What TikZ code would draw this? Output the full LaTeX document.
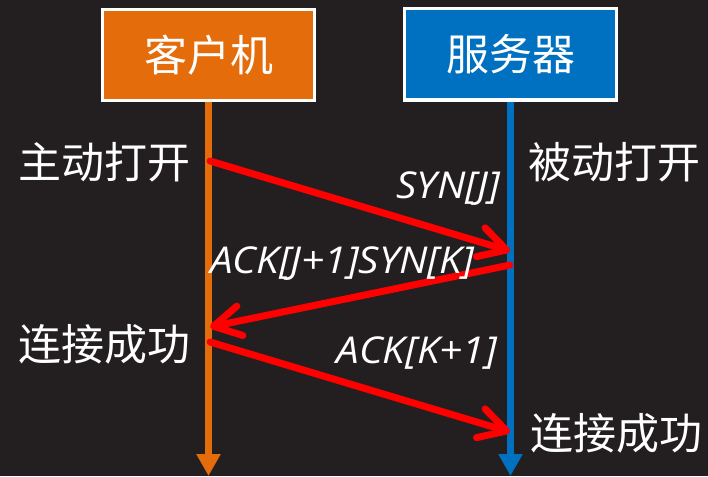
\documentclass[tikz,border=0pt]{standalone}
\usepackage{fontspec}
\setmainfont{Noto Sans CJK SC}
\newfontfamily\latfont{Open Sans}
\usetikzlibrary{arrows.meta}
\definecolor{bgc}{HTML}{231F20}
\definecolor{orgc}{HTML}{E46C0A}
\definecolor{bluc}{HTML}{0070C0}
\definecolor{redc}{HTML}{FF0000}
\newcommand{\msgtext}[1]{\scalebox{1.09}[1]{#1}}
\tikzset{
  hostbox/.style={draw=white, line width=3pt, minimum width=212pt, minimum height=91pt, inner sep=0pt, text=white, font=\fontsize{43}{43}\selectfont},
  cjklabel/.style={text=white, inner sep=0pt, font=\fontsize{43}{43}\selectfont},
  msglabel/.style={text=white, inner sep=0pt, font=\latfont\itshape\fontsize{37}{37}\selectfont},
  lifeline/.style={line width=7pt, -{Triangle[length=22pt,width=23pt]}},
  msgarrow/.style={draw=redc, line width=7pt, line cap=round, -{Straight Barb[length=27pt,width=30pt,round]}},
}
\begin{document}
\begin{tikzpicture}[x=1pt,y=-1pt]
\useasboundingbox (0,0) rectangle (708,476);
\fill[bgc] (0,0) rectangle (708,476);
% hosts
\node[hostbox, fill=orgc] (client) at (208.5,55) {客户机};
\node[hostbox, fill=bluc] (server) at (510.5,54.5) {服务器};
% lifeline ends
\coordinate (cend) at (208.5,476);
\coordinate (send) at (510.5,476);
\draw[lifeline, draw=orgc, fill=orgc] (client.south) -- (cend);
\draw[lifeline, draw=bluc, fill=bluc] (server.south) -- (send);
% message points
\coordinate (c1) at (210,161);
\coordinate (s1) at (510,251);
\coordinate (s2) at (510,265);
\coordinate (c2) at (210,327);
\coordinate (c3) at (210,342);
\coordinate (s3) at (510,432);
\draw[msgarrow] (c1) -- (s1);
\draw[msgarrow] (s2) -- (c2);
\draw[msgarrow] (c3) -- (s3);
% labels
\node[cjklabel] (l1) at (104,162) {主动打开};
\node[cjklabel] (r1) at (614,162) {被动打开};
\node[cjklabel] (l2) at (104,344) {连接成功};
\node[cjklabel] (r2) at (616,433) {连接成功};
\node[msglabel, anchor=base east] (m1) at (500,198) {\msgtext{SYN[J]}};
\node[msglabel, anchor=base west] (m2) at (210,273) {\msgtext{ACK[J+1]SYN[K]}};
\node[msglabel, anchor=base east] (m3) at (497,363) {\msgtext{ACK[K+1]}};
\end{tikzpicture}
\end{document}
